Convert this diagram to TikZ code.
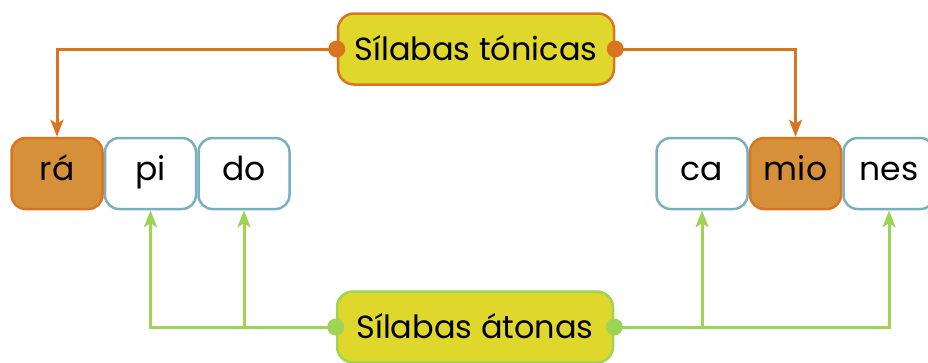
\documentclass[tikz,border=0pt]{standalone}
\usepackage{fontspec}
\setmainfont{Poppins}
\usetikzlibrary{positioning,arrows.meta}
\definecolor{amarillo}{HTML}{E0D72C}
\definecolor{naranja}{HTML}{D97520}
\definecolor{naranjaclaro}{HTML}{D7903A}
\definecolor{azul}{HTML}{79B0BF}
\definecolor{verde}{HTML}{9DD454}

\begin{document}
\begin{tikzpicture}[x=1pt,y=-1pt,
    silaba/.style={draw=azul,fill=white,line width=2.5pt,rounded corners=14pt,
      minimum width=91pt,minimum height=71pt,inner sep=0pt,
      text height=20pt,text depth=7pt,font=\fontsize{33}{33}\selectfont},
    tonica/.style={silaba,draw=naranja,fill=naranjaclaro},
    etiqueta/.style={fill=amarillo,line width=2.5pt,rounded corners=16pt,
      minimum width=276pt,minimum height=71pt,inner sep=0pt,
      text height=28pt,text depth=6pt,font=\fontsize{32}{32}\selectfont},
    flecha/.style={line width=3pt,-{Stealth[length=17pt,width=13pt,inset=4pt]}}]
  \useasboundingbox (0,0) rectangle (928,362);
  %palabras
  \node[tonica] (ra) at (57,173.5) {rá};
  \node[silaba,right=0pt of ra] (pi) {pi};
  \node[silaba,right=0pt of pi] (do) {do};
  \node[silaba] (ca) at (702,173.5) {ca};
  \node[tonica,right=0pt of ca] (mio) {mio};
  \node[silaba,right=0pt of mio] (nes) {nes};
  %etiquetas
  \node[etiqueta,draw=naranja] (tonicas) at (476,49) {Sílabas tónicas};
  \node[etiqueta,draw=verde] (atonas) at (475,327) {Sílabas átonas};
  %tónicas
  \draw[flecha,naranja] (tonicas.west) -| (ra.north);
  \draw[flecha,naranja] (tonicas.east) -| (mio.north);
  \fill[naranja] (tonicas.west) circle (8.5pt) (tonicas.east) circle (8.5pt);
  %átonas
  \draw[flecha,verde] (atonas.west) -| (pi.south);
  \draw[flecha,verde] (atonas.west) -| (do.south);
  \draw[flecha,verde] (atonas.east) -| (ca.south);
  \draw[flecha,verde] (atonas.east) -| (nes.south);
  \fill[verde] (atonas.west) circle (8.5pt) (atonas.east) circle (8.5pt);
\end{tikzpicture}
\end{document}
